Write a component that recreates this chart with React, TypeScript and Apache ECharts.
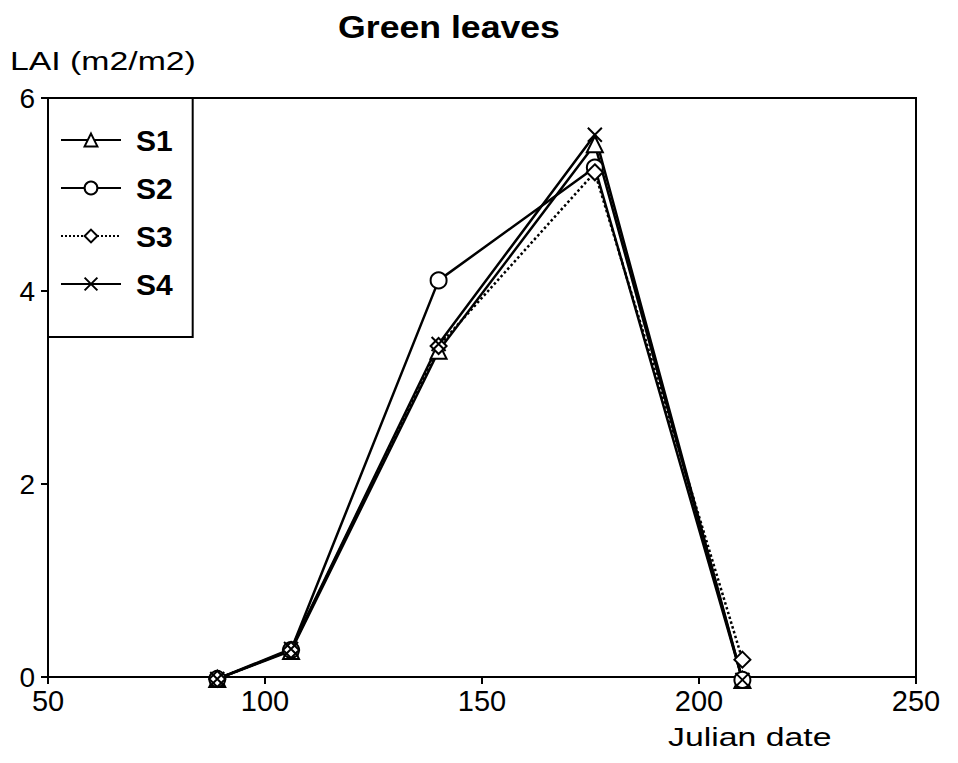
import React, { useEffect, useRef } from "react";
import * as echarts from "echarts";

const days = [89, 106, 140, 176, 210];
const s1 = [-0.02, 0.27, 3.38, 5.52, -0.03];
const s2 = [-0.02, 0.28, 4.11, 5.28, -0.03];
const s3 = [-0.02, 0.28, 3.43, 5.23, 0.18];
const s4 = [-0.02, 0.29, 3.45, 5.62, -0.03];
const seriesNames = ["S1", "S2", "S3", "S4"];
const xTicks = { min: 50, max: 250, interval: 50 };
const yTicks = { min: 0, max: 6, interval: 2 };
const titleText = "Green leaves";
const yName = "LAI (m2/m2)";
const xName = "Julian date";

const FONT = "'Liberation Sans', Arial, Helvetica, sans-serif";
const X_PATH = "path://M0,0L10,10M10,0L0,10";

export default function App() {
  const ref = useRef<HTMLDivElement>(null);
  useEffect(() => {
    if (!ref.current) return;
    const chart = echarts.init(ref.current, null, { renderer: "svg" });
    const mk = (name: string, vals: number[], symbol: string, dotted = false) => ({
      name,
      type: "line",
      data: days.map((d, i) => [d, vals[i]]),
      symbol,
      symbolSize: symbol === X_PATH ? 14 : 16,
      showAllSymbol: true,
      clip: false,
      lineStyle: { color: "#000", width: 2.5, type: dotted ? "dotted" : "solid" },
      itemStyle: { color: "#fff", borderColor: "#000", borderWidth: 2 },
      emphasis: { disabled: true },
      z: 3,
    });
    chart.setOption({
      animation: false,
      backgroundColor: "#fff",
      textStyle: { fontFamily: FONT },
      grid: {
        left: 40,
        right: 34,
        top: 90,
        bottom: 86,
        show: true,
        borderColor: "#000",
        borderWidth: 2,
        backgroundColor: "transparent",
      },
      legend: {
        orient: "vertical",
        left: 40,
        top: 90,
        data: seriesNames,
        itemWidth: 60,
        itemHeight: 16,
        itemGap: 18,
        padding: [27, 20, 38, 12],
        borderColor: "#000",
        borderWidth: 2,
        backgroundColor: "#fff",
        selectedMode: false,
        textStyle: {
          fontFamily: FONT,
          fontSize: 30,
          fontWeight: "bold",
          color: "#000",
          lineHeight: 30,
          padding: [0, 0, 0, 10],
        },
        z: 10,
      },
      xAxis: {
        type: "value",
        ...xTicks,
        axisLine: { show: true, lineStyle: { color: "#000", width: 2 } },
        axisTick: { show: true, length: 7, lineStyle: { color: "#000", width: 2 } },
        axisLabel: { color: "#000", fontSize: 29, fontFamily: FONT, margin: 9 },
        splitLine: { show: false },
      },
      yAxis: {
        type: "value",
        ...yTicks,
        axisLine: { show: true, lineStyle: { color: "#000", width: 2 } },
        axisTick: { show: true, length: 7, lineStyle: { color: "#000", width: 2 } },
        axisLabel: { color: "#000", fontSize: 28, fontFamily: FONT, margin: 13 },
        splitLine: { show: false },
      },
      graphic: [
        {
          type: "text",
          x: 441,
          y: 4,
          scaleX: 1.15,
          style: {
            text: titleText,
            fontFamily: FONT,
            fontSize: 31,
            fontWeight: "bold",
            fill: "#000",
            textAlign: "center",
            textVerticalAlign: "top",
          },
        },
        {
          type: "text",
          x: 2,
          y: 40,
          scaleX: 1.3,
          style: {
            text: yName,
            fontFamily: FONT,
            fontSize: 26,
            fill: "#000",
            textVerticalAlign: "top",
          },
        },
        {
          type: "text",
          x: 660,
          y: 716,
          scaleX: 1.3,
          style: {
            text: xName,
            fontFamily: FONT,
            fontSize: 26,
            fill: "#000",
            textVerticalAlign: "top",
          },
        },
      ],
      series: [
        mk("S1", s1, "triangle"),
        mk("S2", s2, "circle"),
        mk("S3", s3, "diamond", true),
        mk("S4", s4, X_PATH),
      ],
    });
    return () => chart.dispose();
  }, []);
  return <div ref={ref} style={{ width: 942, height: 755 }} />;
}
